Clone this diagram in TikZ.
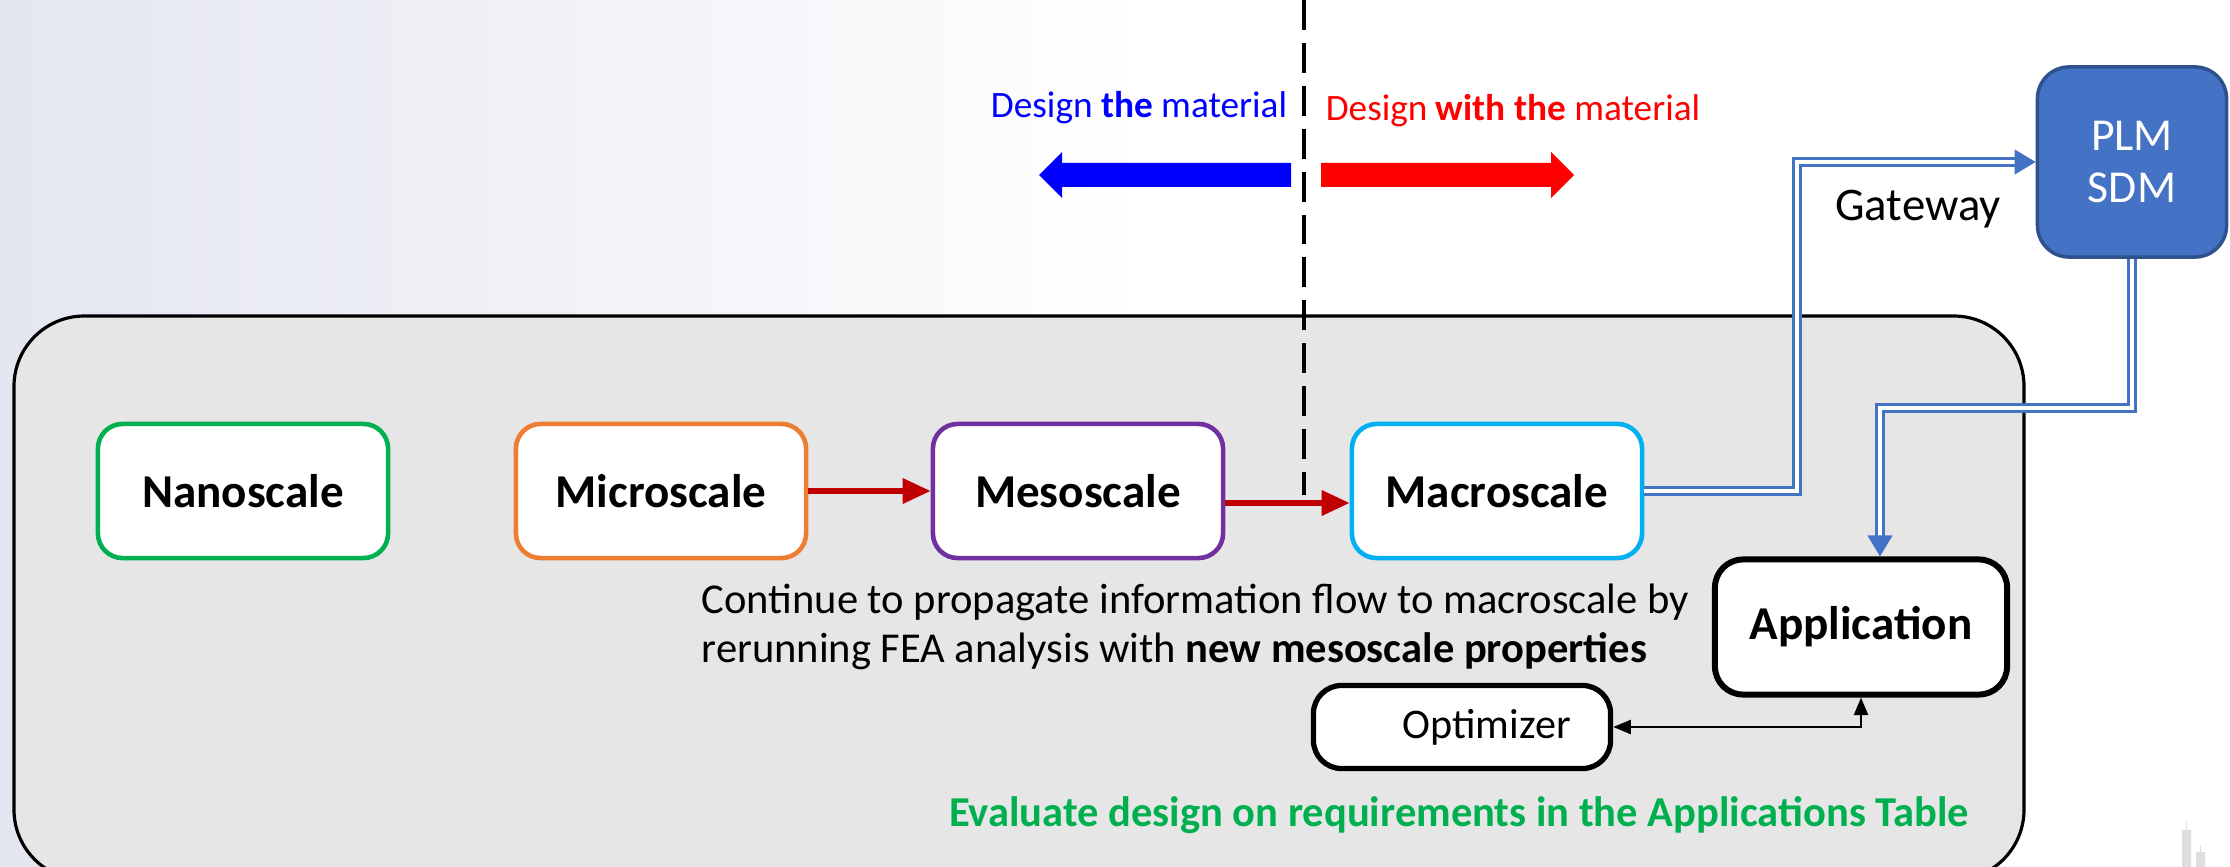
\documentclass[tikz,border=0pt]{standalone}
\usepackage{fontspec}
\setmainfont{Carlito}
\usepackage{tikz}
\usetikzlibrary{arrows.meta,calc,positioning}
\definecolor{nanoc}{HTML}{00B050}
\definecolor{microc}{HTML}{ED7D31}
\definecolor{mesoc}{HTML}{7030A0}
\definecolor{macroc}{HTML}{00B0F0}
\definecolor{flowred}{HTML}{C00000}
\definecolor{plmblue}{HTML}{4472C4}
\definecolor{plmdark}{HTML}{2F528F}
\definecolor{panel}{HTML}{E6E6E6}
\definecolor{bgl}{RGB}{228,230,240}

\begin{document}
\begin{tikzpicture}[x=0.01cm,y=-0.01cm,
  scalebox/.style={draw=#1,line width=1.3pt,fill=white,rounded corners=7pt,
    minimum width=2.9cm,minimum height=1.34cm,font=\fontsize{13.4}{16}\selectfont\bfseries},
  blackbox/.style={draw,line width=1.7pt,fill=white,rounded corners=8pt},
  flow/.style={flowred,line width=1.5pt,-{Triangle[length=8pt,width=7pt]}},
  dbl/.style={plmblue,double=white,double distance=1.3pt,line width=0.7pt,-{Triangle[length=6pt,width=7pt]}},
  link/.style={line width=0.6pt,{Triangle[length=5pt,width=4pt]}-{Triangle[length=5pt,width=4pt]}}]
  \useasboundingbox (0,0) rectangle (2230,867);
  % background
  \shade[left color=bgl,right color=white] (0,0) rectangle (1150,867);
  \fill[white] (1150,0) rectangle (2230,867);
  \fill[black!13] (2182,830) rectangle (2191,867) (2196,852) rectangle (2205,867);
  \draw[black!13,line width=0.4pt] (2186.5,822)--(2186.5,830) (2200.5,845)--(2200.5,852);
  % panel
  \draw[fill=panel,line width=0.9pt,rounded corners=20pt] (14,316) rectangle (2024,880);
  % split between the two design views
  \draw[line width=1.1pt,dash pattern=on 8.5pt off 3.7pt] (1304,0) -- (1304,495);
  \node[blue,font=\fontsize{10.6}{13}\selectfont] (dthe) at (1139,108) {Design \textbf{the} material};
  \node[red,font=\fontsize{10.6}{13}\selectfont] (dwith) at (1513,111) {Design \textbf{with the} material};
  \fill[blue] (1291,163) -- (1062,163) -- (1062,152) -- (1039,175) -- (1062,198) -- (1062,187) -- (1291,187) -- cycle;
  \fill[red] (1321,163) -- (1551,163) -- (1551,152) -- (1574,175) -- (1551,198) -- (1551,187) -- (1321,187) -- cycle;
  % scales
  \node[scalebox=nanoc] (nano) at (243,491) {Nanoscale};
  \node[scalebox=microc] (micro) at (661,491) {Microscale};
  \node[scalebox=mesoc] (meso) at (1078,491) {Mesoscale};
  \node[scalebox=macroc] (macro) at (1497,491) {Macroscale};
  \draw[flow] (micro) -- (meso);
  \draw[flow] ($(meso.east)+(0,12)$) -- ($(macro.west)+(0,12)$);
  \node[align=left,anchor=west,inner sep=0pt,font=\fontsize{12.1}{14}\selectfont] (note) at (701,627)
    {Continue to propagate information flow to macroscale by\\rerunning FEA analysis with \textbf{new mesoscale properties}};
  % application side
  \node[blackbox,minimum width=2.92cm,minimum height=1.35cm,font=\fontsize{13.4}{16}\selectfont\bfseries] (app) at (1861,627) {Application};
  \node[blackbox,line width=1.5pt,minimum width=2.97cm,minimum height=0.83cm,font=\fontsize{12}{14}\selectfont] (opt) at (1462,727) {\hspace{14pt}Optimizer};
  \draw[link] (opt.east) -| (app.south);
  \node[nanoc,font=\fontsize{12.1}{14}\selectfont\bfseries] (eval) at (1459,815) {Evaluate design on requirements in the Applications Table};
  % PLM / SDM
  \node[draw=plmdark,line width=1pt,fill=plmblue,text=white,rounded corners=9pt,align=center,
    minimum width=1.89cm,minimum height=1.9cm,font=\fontsize{13}{15}\selectfont] (plm) at (2132,162) {PLM\\SDM};
  \node[font=\fontsize{13.3}{16}\selectfont] (gate) at (1918,209) {Gateway};
  \coordinate (gw) at (1797,162);
  \coordinate (turn) at (1880,408);
  \draw[dbl] (macro.east) -| (gw) -- (plm.west);
  \draw[dbl] (plm.south) |- (turn) -- (turn |- app.north);
\end{tikzpicture}
\end{document}
